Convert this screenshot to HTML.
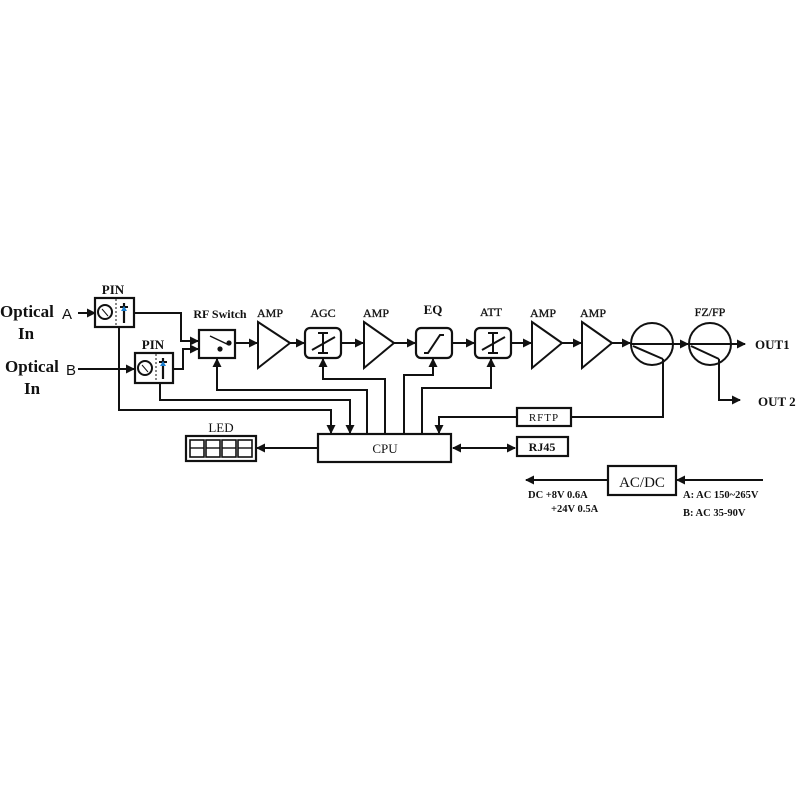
<!DOCTYPE html>
<html><head><meta charset="utf-8"><style>
html,body{margin:0;padding:0;background:#fff;width:800px;height:800px;overflow:hidden}
text{font-family:"Liberation Serif",serif;fill:#111}
.b{font-weight:bold}
.m{stroke:#111;stroke-width:0.3}
</style></head><body>
<svg width="800" height="800" viewBox="0 0 800 800" xmlns="http://www.w3.org/2000/svg">
<defs>
<marker id="a" markerWidth="9" markerHeight="9" refX="8" refY="4.5" orient="auto" markerUnits="userSpaceOnUse"><path d="M0,0 L9,4.5 L0,9 z" fill="#111"/></marker>
<marker id="s" markerWidth="9" markerHeight="9" refX="1" refY="4.5" orient="auto" markerUnits="userSpaceOnUse"><path d="M9,0 L0,4.5 L9,9 z" fill="#111"/></marker>
</defs>
<g stroke="#111" stroke-width="2" fill="none">
<line x1="78" y1="313" x2="95" y2="313" marker-end="url(#a)"/>
<line x1="78" y1="369" x2="134" y2="369" marker-end="url(#a)"/>
<rect x="95" y="298" width="39" height="29" stroke-width="2.2"/>
<circle cx="105" cy="312" r="7"/>
<line x1="102" y1="309" x2="108" y2="316" stroke-width="1"/>
<line x1="116" y1="299" x2="116" y2="326" stroke-dasharray="2,2" stroke-width="1"/>
<line x1="124" y1="303" x2="124" y2="323" stroke-width="2.2"/>
<line x1="120" y1="307" x2="128" y2="307"/>
<rect x="135" y="353" width="38" height="30" stroke-width="2.2"/>
<circle cx="145" cy="368" r="7"/>
<line x1="142" y1="365" x2="148" y2="372" stroke-width="1"/>
<line x1="156" y1="354" x2="156" y2="382" stroke-dasharray="2,2" stroke-width="1"/>
<line x1="163" y1="358" x2="163" y2="379" stroke-width="2.2"/>
<line x1="159" y1="362" x2="167" y2="362"/>
<polyline points="134,313 181,313 181,341 198,341" marker-end="url(#a)"/>
<polyline points="173,369 183,369 183,349 198,349" marker-end="url(#a)"/>
<rect x="199" y="330" width="36" height="28" stroke-width="2.2"/>
<line x1="210" y1="336" x2="229" y2="345" stroke-width="1.4"/>
<circle cx="229" cy="343" r="1.6" fill="#111"/>
<circle cx="220" cy="349" r="1.6" fill="#111"/>
<line x1="235" y1="343" x2="257" y2="343" marker-end="url(#a)"/>
<polygon points="258,322 290,343 258,368"/>
<line x1="290" y1="343" x2="304" y2="343" marker-end="url(#a)"/>
<rect x="305" y="328" width="36" height="30" rx="5" stroke-width="2.2"/>
<line x1="323" y1="333" x2="323" y2="353"/><line x1="318" y1="333" x2="328" y2="333"/><line x1="318" y1="353" x2="328" y2="353"/>
<line x1="312" y1="350" x2="335" y2="337"/>
<line x1="341" y1="343" x2="363" y2="343" marker-end="url(#a)"/>
<polygon points="364,322 394,343 364,368"/>
<line x1="394" y1="343" x2="415" y2="343" marker-end="url(#a)"/>
<rect x="416" y="328" width="36" height="30" rx="5" stroke-width="2.2"/>
<polyline points="424,353 428,353 440,335 444,335" />
<line x1="452" y1="343" x2="474" y2="343" marker-end="url(#a)"/>
<rect x="475" y="328" width="36" height="30" rx="5" stroke-width="2.2"/>
<line x1="493" y1="333" x2="493" y2="353"/><line x1="488" y1="333" x2="498" y2="333"/><line x1="488" y1="353" x2="498" y2="353"/>
<line x1="482" y1="350" x2="505" y2="337"/>
<line x1="511" y1="343" x2="531" y2="343" marker-end="url(#a)"/>
<polygon points="532,322 562,343 532,368"/>
<line x1="562" y1="343" x2="581" y2="343" marker-end="url(#a)"/>
<polygon points="582,322 612,343 582,368"/>
<line x1="612" y1="343" x2="630" y2="343" marker-end="url(#a)"/>
<circle cx="652" cy="344" r="21"/>
<line x1="631" y1="344" x2="673" y2="344"/>
<line x1="633" y1="346" x2="663" y2="359"/>
<line x1="673" y1="344" x2="688" y2="344" marker-end="url(#a)"/>
<circle cx="710" cy="344" r="21"/>
<line x1="689" y1="344" x2="745" y2="344" marker-end="url(#a)"/>
<line x1="691" y1="346" x2="719" y2="359"/>
<polyline points="719,359 719,400 740,400" marker-end="url(#a)"/>
<polyline points="663,359 663,417 571,417"/>
<rect x="517" y="408" width="54" height="18" stroke-width="2.2"/>
<polyline points="517,417 439,417 439,433" marker-end="url(#a)"/>
<rect x="318" y="434" width="133" height="28" stroke-width="2.2"/>
<rect x="517" y="437" width="51" height="19" stroke-width="2.2"/>
<line x1="453" y1="448" x2="515" y2="448" marker-start="url(#s)" marker-end="url(#a)"/>
<line x1="318" y1="448" x2="257" y2="448" marker-end="url(#a)"/>
<rect x="186" y="436" width="70" height="25" stroke-width="2.2"/>
<rect x="190" y="440" width="14" height="17" stroke-width="1.6"/><line x1="190" y1="448" x2="204" y2="448" stroke-width="1.4"/>
<rect x="206" y="440" width="14" height="17" stroke-width="1.6"/><line x1="206" y1="448" x2="220" y2="448" stroke-width="1.4"/>
<rect x="222" y="440" width="14" height="17" stroke-width="1.6"/><line x1="222" y1="448" x2="236" y2="448" stroke-width="1.4"/>
<rect x="238" y="440" width="14" height="17" stroke-width="1.6"/><line x1="238" y1="448" x2="252" y2="448" stroke-width="1.4"/>
<polyline points="367,434 367,390 217,390 217,359" marker-end="url(#a)"/>
<polyline points="160,383 160,400 350,400 350,433" marker-end="url(#a)"/>
<polyline points="119,327 119,410 331,410 331,433" marker-end="url(#a)"/>
<polyline points="385,434 385,379 323,379 323,359" marker-end="url(#a)"/>
<polyline points="404,434 404,375 433,375 433,359" marker-end="url(#a)"/>
<polyline points="422,434 422,388 491,388 491,359" marker-end="url(#a)"/>
<rect x="608" y="466" width="68" height="29" stroke-width="2.2"/>
<line x1="763" y1="480" x2="677" y2="480" marker-end="url(#a)"/>
<line x1="608" y1="480" x2="526" y2="480" marker-end="url(#a)"/>
</g>
<path d="M121,311 L124,306 L127,311 z" fill="#1a7fd0"/>
<path d="M160,366 L163,361 L166,366 z" fill="#1a7fd0"/>
<text x="0" y="317" class="b" font-size="17">Optical</text>
<text x="18" y="339" class="b" font-size="17">In</text>
<text x="5" y="372" class="b" font-size="17">Optical</text>
<text x="24" y="394" class="b" font-size="17">In</text>
<text x="62" y="319" font-size="15" style="font-family:'Liberation Sans',sans-serif">A</text>
<text x="66" y="375" font-size="15" style="font-family:'Liberation Sans',sans-serif">B</text>
<text x="113" y="294" class="b" font-size="13" text-anchor="middle">PIN</text>
<text x="153" y="349" class="b" font-size="13" text-anchor="middle">PIN</text>
<text x="220" y="318" class="b" font-size="12" text-anchor="middle">RF Switch</text>
<text x="270" y="317" font-size="12" class="m" text-anchor="middle">AMP</text>
<text x="323" y="317" font-size="12" class="m" text-anchor="middle">AGC</text>
<text x="376" y="317" font-size="12" class="m" text-anchor="middle">AMP</text>
<text x="433" y="314" class="b" font-size="13" text-anchor="middle">EQ</text>
<text x="491" y="316" font-size="12" class="m" text-anchor="middle">ATT</text>
<text x="543" y="317" font-size="12" class="m" text-anchor="middle">AMP</text>
<text x="593" y="317" font-size="12" class="m" text-anchor="middle">AMP</text>
<text x="710" y="316" font-size="12" class="m" text-anchor="middle">FZ/FP</text>
<text x="755" y="349" class="b" font-size="13">OUT1</text>
<text x="758" y="406" class="b" font-size="13">OUT 2</text>
<text x="544" y="421" font-size="11" text-anchor="middle" letter-spacing="1">RFTP</text>
<text x="542" y="451" class="b" font-size="12" text-anchor="middle">RJ45</text>
<text x="385" y="453" font-size="13" text-anchor="middle">CPU</text>
<text x="221" y="432" font-size="13" text-anchor="middle">LED</text>
<text x="642" y="487" font-size="15" text-anchor="middle">AC/DC</text>
<text x="528" y="498" class="b" font-size="10.5">DC +8V 0.6A</text>
<text x="551" y="512" class="b" font-size="10.5">+24V 0.5A</text>
<text x="683" y="498" class="b" font-size="10.5">A: AC 150~265V</text>
<text x="683" y="516" class="b" font-size="10.5">B: AC 35-90V</text>
</svg>
</body></html>
